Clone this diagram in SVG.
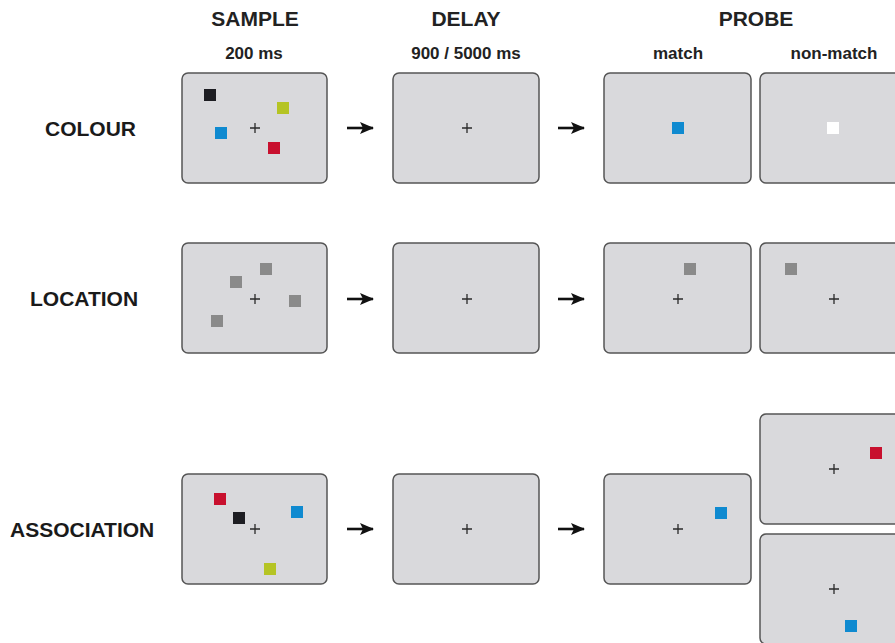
<svg xmlns="http://www.w3.org/2000/svg" width="895" height="643" viewBox="0 0 895 643">
<defs>
<style>
.hdr{font-family:"Liberation Sans",Arial,sans-serif;font-weight:bold;font-size:21px;fill:#222;text-anchor:middle}
.sub{font-family:"Liberation Sans",Arial,sans-serif;font-weight:bold;font-size:17px;fill:#222;text-anchor:middle}
.row{font-family:"Liberation Sans",Arial,sans-serif;font-weight:bold;font-size:21px;fill:#1a1a1a}
.scr{fill:#d9d9dc;stroke:#555;stroke-width:1.5}
.fx{stroke:#2a2a2a;stroke-width:1.3;fill:none}
.arr{stroke:#111;stroke-width:2.6;fill:none}
.bk{fill:#1d1d22}.lm{fill:#b5c424}.bl{fill:#0f8ad0}.rd{fill:#c8102e}.gy{fill:#8a8a8a}.wt{fill:#fff}
</style>
<marker id="ah" viewBox="0 0 14 12" refX="13" refY="6" markerWidth="14" markerHeight="12" markerUnits="userSpaceOnUse" orient="auto">
<path d="M0,0 L14,6 L0,12 L3,6 Z" fill="#111"/>
</marker>
<path id="cross" d="M-5,0 H5 M0,-5 V5"/>
</defs>
<rect width="895" height="643" fill="#fff"/>

<g id="headers">
<text class="hdr" x="255" y="26">SAMPLE</text>
<text class="sub" x="254" y="59">200 ms</text>
<text class="hdr" x="466" y="26">DELAY</text>
<text class="sub" x="466" y="59">900 / 5000 ms</text>
<text class="hdr" x="756" y="26">PROBE</text>
<text class="sub" x="678" y="59">match</text>
<text class="sub" x="834" y="59">non-match</text>
</g>

<g id="row-labels">
<text class="row" x="45" y="136">COLOUR</text>
<text class="row" x="30" y="306">LOCATION</text>
<text class="row" x="10" y="537">ASSOCIATION</text>
</g>

<!-- Row 1: COLOUR -->
<g id="colour-sample">
<rect class="scr" x="182" y="73" width="145" height="110" rx="6"/>
<use href="#cross" class="fx" x="255" y="128"/>
<rect class="bk" x="204" y="89" width="12" height="12"/>
<rect class="lm" x="277" y="102" width="12" height="12"/>
<rect class="bl" x="215" y="127" width="12" height="12"/>
<rect class="rd" x="268" y="142" width="12" height="12"/>
</g>
<g id="colour-delay">
<rect class="scr" x="393" y="73" width="146" height="110" rx="6"/>
<use href="#cross" class="fx" x="467" y="128"/>
</g>
<g id="colour-match">
<rect class="scr" x="604" y="73" width="147" height="110" rx="6"/>
<rect class="bl" x="672" y="122" width="12" height="12"/>
</g>
<g id="colour-nonmatch">
<rect class="scr" x="760" y="73" width="147" height="110" rx="6"/>
<rect class="wt" x="827" y="122" width="12" height="12"/>
</g>

<!-- Row 2: LOCATION -->
<g id="location-sample">
<rect class="scr" x="182" y="243" width="145" height="110" rx="6"/>
<use href="#cross" class="fx" x="255" y="299"/>
<rect class="gy" x="260" y="263" width="12" height="12"/>
<rect class="gy" x="230" y="276" width="12" height="12"/>
<rect class="gy" x="289" y="295" width="12" height="12"/>
<rect class="gy" x="211" y="315" width="12" height="12"/>
</g>
<g id="location-delay">
<rect class="scr" x="393" y="243" width="146" height="110" rx="6"/>
<use href="#cross" class="fx" x="467" y="299"/>
</g>
<g id="location-match">
<rect class="scr" x="604" y="243" width="147" height="110" rx="6"/>
<use href="#cross" class="fx" x="678" y="299"/>
<rect class="gy" x="684" y="263" width="12" height="12"/>
</g>
<g id="location-nonmatch">
<rect class="scr" x="760" y="243" width="147" height="110" rx="6"/>
<use href="#cross" class="fx" x="834" y="299"/>
<rect class="gy" x="785" y="263" width="12" height="12"/>
</g>

<!-- Row 3: ASSOCIATION -->
<g id="association-sample">
<rect class="scr" x="182" y="474" width="145" height="110" rx="6"/>
<use href="#cross" class="fx" x="255" y="529"/>
<rect class="rd" x="214" y="493" width="12" height="12"/>
<rect class="bk" x="233" y="512" width="12" height="12"/>
<rect class="bl" x="291" y="506" width="12" height="12"/>
<rect class="lm" x="264" y="563" width="12" height="12"/>
</g>
<g id="association-delay">
<rect class="scr" x="393" y="474" width="146" height="110" rx="6"/>
<use href="#cross" class="fx" x="467" y="529"/>
</g>
<g id="association-match">
<rect class="scr" x="604" y="474" width="147" height="110" rx="6"/>
<use href="#cross" class="fx" x="678" y="529"/>
<rect class="bl" x="715" y="507" width="12" height="12"/>
</g>
<g id="association-nonmatch-1">
<rect class="scr" x="760" y="414" width="147" height="110" rx="6"/>
<use href="#cross" class="fx" x="834" y="469"/>
<rect class="rd" x="870" y="447" width="12" height="12"/>
</g>
<g id="association-nonmatch-2">
<rect class="scr" x="760" y="534" width="147" height="110" rx="6"/>
<use href="#cross" class="fx" x="834" y="589"/>
<rect class="bl" x="845" y="620" width="12" height="12"/>
</g>

<g id="connectors">
<line class="arr" x1="347" y1="128" x2="373" y2="128" marker-end="url(#ah)"/>
<line class="arr" x1="558" y1="128" x2="584" y2="128" marker-end="url(#ah)"/>
<line class="arr" x1="347" y1="299" x2="373" y2="299" marker-end="url(#ah)"/>
<line class="arr" x1="558" y1="299" x2="584" y2="299" marker-end="url(#ah)"/>
<line class="arr" x1="347" y1="529" x2="373" y2="529" marker-end="url(#ah)"/>
<line class="arr" x1="558" y1="529" x2="584" y2="529" marker-end="url(#ah)"/>
</g>
</svg>
